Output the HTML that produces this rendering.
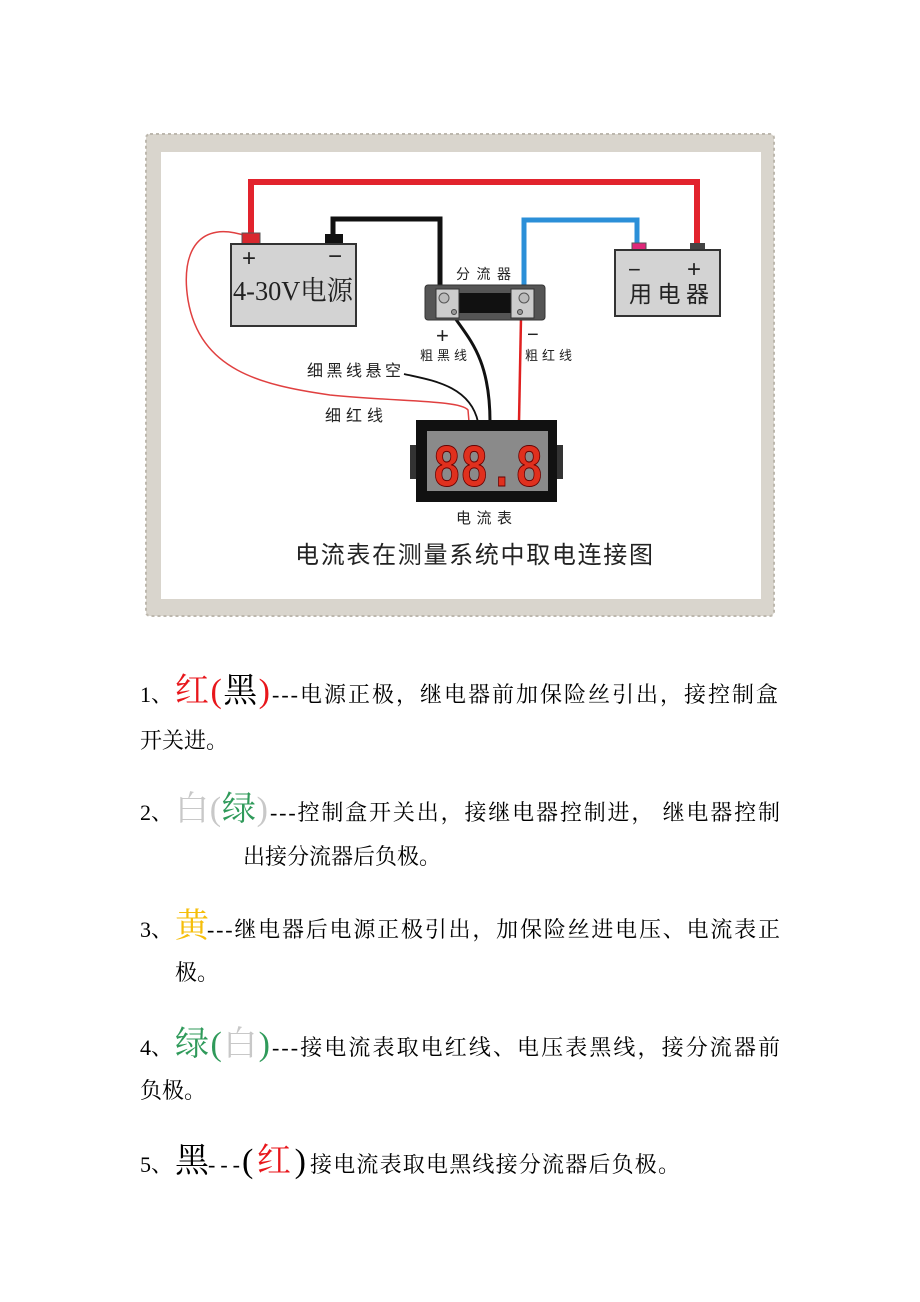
<!DOCTYPE html>
<html><head><meta charset="utf-8"><style>
html,body{margin:0;padding:0;background:#fff;}
svg{display:block;}
.t{font-family:"Liberation Serif","Noto Serif CJK SC",serif;font-size:22px;fill:#000;}
.b{font-family:"Liberation Serif","Noto Serif CJK SC",serif;font-size:34px;}
.s{font-family:"Liberation Sans","Noto Sans CJK SC",sans-serif;fill:#222;}
</style></head><body>
<svg width="920" height="1302" viewBox="0 0 920 1302" xmlns="http://www.w3.org/2000/svg">
<rect x="146" y="134" width="628" height="482" fill="#d9d5cd" rx="4"/>
<rect x="146" y="134" width="628" height="482" fill="none" stroke="#bdb8ae" stroke-width="2" stroke-dasharray="3 3" rx="4"/>
<rect x="161" y="152" width="600" height="447" fill="#fff"/>
<path d="M246,236 C200,220 180,250 188,300 C200,370 260,385 330,395 C400,402 460,400 468,410 L469,422" fill="none" stroke="#e04040" stroke-width="1.5"/>
<path d="M404,374 C430,380 470,385 478,422" fill="none" stroke="#111" stroke-width="1.8"/>
<path d="M455,318 C470,340 490,360 490,422" fill="none" stroke="#111" stroke-width="3"/>
<path d="M521,318 L519,422" fill="none" stroke="#e02020" stroke-width="2.5"/>
<path d="M251,236 L251,182 L697,182 L697,246" fill="none" stroke="#e2232d" stroke-width="6"/>
<path d="M333,236 L333,219 L440,219 L440,292" fill="none" stroke="#111" stroke-width="5"/>
<path d="M524,292 L524,220 L637,220 L637,246" fill="none" stroke="#2b8fd8" stroke-width="5"/>
<rect x="242" y="233" width="18" height="11" fill="#d8282e" stroke="#555" stroke-width="1"/>
<rect x="325" y="234" width="18" height="10" fill="#111"/>
<rect x="231" y="244" width="125" height="82" fill="#d3d3d3" stroke="#333" stroke-width="2"/>
<text x="242" y="266" class="s" font-size="24">+</text>
<text x="328" y="264" class="s" font-size="24">−</text>
<text x="233" y="300" font-family="Liberation Serif,Noto Serif CJK SC,serif" fill="#222" font-size="27" textLength="120" lengthAdjust="spacingAndGlyphs">4-30V电源</text>
<rect x="632" y="243" width="14" height="8" fill="#e0287a" stroke="#555" stroke-width="1"/>
<rect x="690" y="243" width="15" height="8" fill="#444"/>
<rect x="615" y="250" width="105" height="66" fill="#d3d3d3" stroke="#333" stroke-width="2"/>
<text x="628" y="277" class="s" font-size="22">−</text>
<text x="687" y="277" class="s" font-size="24">+</text>
<text x="629" y="302" class="s" font-size="23" textLength="80">用电器</text>
<text x="456" y="279" class="s" font-size="14" textLength="55">分流器</text>
<rect x="425" y="285" width="120" height="35" rx="3" fill="#555" stroke="#333"/>
<rect x="441" y="293" width="88" height="20" fill="#111"/>
<rect x="436" y="289" width="23" height="29" fill="#ccc" stroke="#333"/>
<rect x="511" y="289" width="23" height="29" fill="#ccc" stroke="#333"/>
<circle cx="444" cy="298" r="5" fill="#bbb" stroke="#555"/>
<circle cx="524" cy="298" r="5" fill="#bbb" stroke="#555"/>
<circle cx="454" cy="312" r="2.5" fill="#999" stroke="#444"/>
<circle cx="520" cy="312" r="2.5" fill="#999" stroke="#444"/>
<text x="436" y="343" class="s" font-size="22">+</text>
<text x="527" y="341" class="s" font-size="20">−</text>
<text x="420" y="360" class="s" font-size="13" textLength="47">粗黑线</text>
<text x="525" y="360" class="s" font-size="13" textLength="47">粗红线</text>
<text x="307" y="376" class="s" font-size="16" fill="#444" textLength="94">细黑线悬空</text>
<text x="325" y="421" class="s" font-size="16" fill="#444" textLength="58">细红线</text>
<rect x="410" y="445" width="8" height="34" fill="#333"/>
<rect x="555" y="445" width="8" height="34" fill="#333"/>
<rect x="416" y="420" width="141" height="82" fill="#111"/>
<rect x="427" y="431" width="121" height="60" fill="#8a8a8a"/>
<text x="433" y="486" font-family="Liberation Mono,monospace" font-weight="bold" font-size="60" fill="#e0301e" stroke="#600" stroke-width="1" textLength="110" lengthAdjust="spacingAndGlyphs">88.8</text>
<text x="456" y="523" class="s" font-size="15" textLength="56">电流表</text>
<text x="295" y="563" class="s" font-size="24" fill="#333" textLength="358">电流表在测量系统中取电连接图</text>

<text x="140" y="702" class="t">1、</text>
<text x="175" y="702" class="b" textLength="95"><tspan fill="#e8161b">红</tspan><tspan fill="#e8161b">(</tspan><tspan fill="#000">黑</tspan><tspan fill="#e8161b">)</tspan></text>
<text x="272" y="702" class="t" textLength="506">---电源正极，继电器前加保险丝引出，接控制盒</text>
<text x="140" y="748" class="t">开关进。</text>

<text x="140" y="820" class="t">2、</text>
<text x="175" y="820" class="b" textLength="93"><tspan fill="#c8c8c8">白(</tspan><tspan fill="#2f9a5a">绿</tspan><tspan fill="#c8c8c8">)</tspan></text>
<text x="270" y="820" class="t" textLength="510">---控制盒开关出，接继电器控制进， 继电器控制</text>
<text x="243" y="864" class="t">出接分流器后负极。</text>

<text x="140" y="937" class="t">3、</text>
<text x="175" y="937" class="b" fill="#f5be0a">黄</text>
<text x="207" y="937" class="t" textLength="573">---继电器后电源正极引出，加保险丝进电压、电流表正</text>
<text x="175" y="980" class="t">极。</text>

<text x="140" y="1055" class="t">4、</text>
<text x="175" y="1055" class="b" textLength="95"><tspan fill="#2f9a5a">绿</tspan><tspan fill="#2f9a5a">(</tspan><tspan fill="#c8c8c8">白</tspan><tspan fill="#2f9a5a">)</tspan></text>
<text x="272" y="1055" class="t" textLength="508">---接电流表取电红线、电压表黑线，接分流器前</text>
<text x="140" y="1098" class="t">负极。</text>

<text x="140" y="1172" class="t">5、</text>
<text x="175" y="1172" class="b" fill="#000">黑</text>
<text x="208" y="1172" class="t" textLength="32">---</text>
<text x="242" y="1172" class="b" textLength="64"><tspan fill="#000">(</tspan><tspan fill="#e8161b">红</tspan><tspan fill="#000">)</tspan></text>
<text x="310" y="1172" class="t" textLength="370">接电流表取电黑线接分流器后负极。</text>
</svg>
</body></html>
